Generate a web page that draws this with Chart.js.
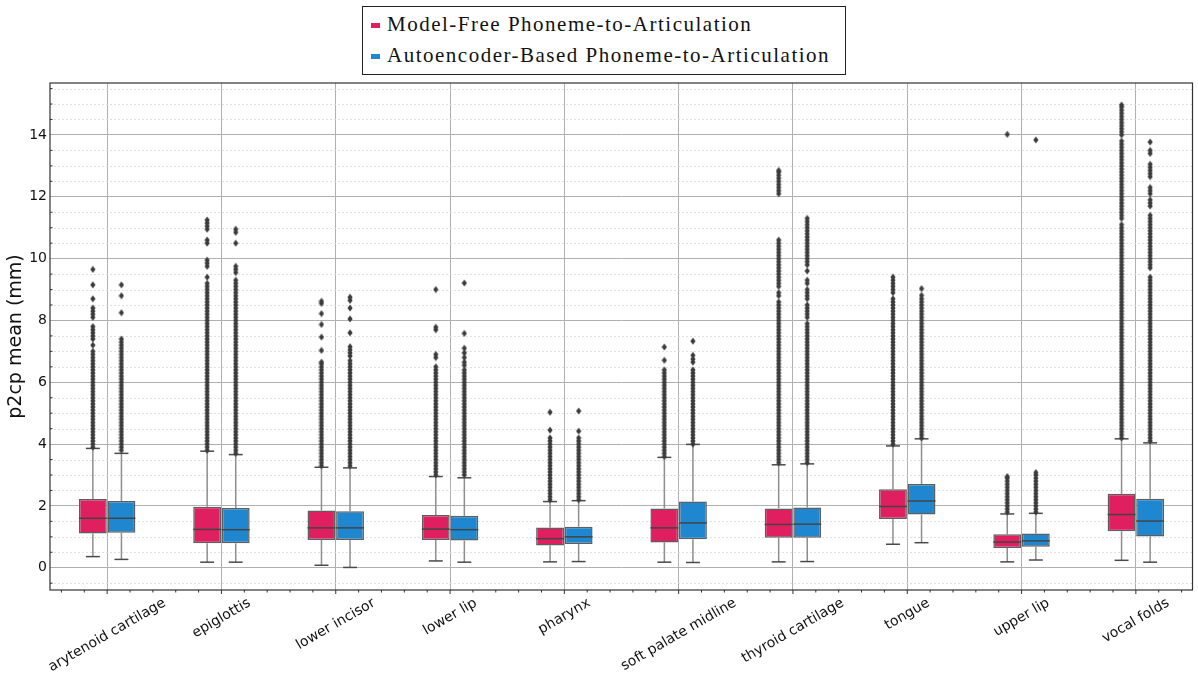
<!DOCTYPE html>
<html>
<head>
<meta charset="utf-8">
<script src="https://cdn.jsdelivr.net/npm/chart.js@4.4.0/dist/chart.umd.min.js"></script>
<style>
  html, body { margin: 0; padding: 0; background: #fff; }
  #wrap { position: relative; width: 1198px; height: 673px; }
  #legend {
    position: absolute; left: 362px; top: 6px; width: 484px; height: 69px;
    box-sizing: border-box; border: 1px solid #222; background: #fff;
    font-family: "Liberation Serif", serif; font-size: 21px; color: #111;
    letter-spacing: 1.5px; padding: 2px 0 0 8px;
  }
  .row { height: 31px; line-height: 31px; white-space: nowrap; }
  .sw { display: inline-block; width: 9px; height: 5px; margin-right: 7px; vertical-align: middle; position: relative; top: -1px; }
</style>
</head>
<body>
<div id="wrap">
  <canvas id="chart" width="1198" height="673"></canvas>
  <div id="legend"></div>
</div>
<script>
const CATEGORIES = ["arytenoid cartilage", "epiglottis", "lower incisor", "lower lip", "pharynx",
  "soft palate midline", "thyroid cartilage", "tongue", "upper lip", "vocal folds"];
const SERIES = ["Model-Free Phoneme-to-Articulation", "Autoencoder-Based Phoneme-to-Articulation"];
const COLORS = ["#df1f5f", "#1f87cf"];

// box stats, Model-Free
const MF_LOW  = [0.36, 0.18, 0.08, 0.22, 0.19, 0.18, 0.19, 0.76, 0.19, 0.24];
const MF_Q1   = [1.11, 0.79, 0.90, 0.90, 0.72, 0.82, 0.97, 1.58, 0.64, 1.18];
const MF_MED  = [1.60, 1.24, 1.29, 1.25, 0.94, 1.29, 1.40, 1.98, 0.83, 1.72];
const MF_Q3   = [2.22, 1.97, 1.85, 1.71, 1.30, 1.92, 1.92, 2.54, 1.08, 2.39];
const MF_HIGH = [3.86, 3.77, 3.25, 2.95, 2.14, 3.57, 3.33, 3.94, 1.74, 4.17];
// box stats, Autoencoder-Based
const AE_LOW  = [0.27, 0.18, 0.01, 0.18, 0.20, 0.17, 0.20, 0.81, 0.25, 0.18];
const AE_Q1   = [1.13, 0.79, 0.90, 0.88, 0.77, 0.92, 0.97, 1.72, 0.68, 1.01];
const AE_MED  = [1.60, 1.23, 1.29, 1.23, 1.00, 1.45, 1.41, 2.16, 0.87, 1.51];
const AE_Q3   = [2.16, 1.93, 1.83, 1.68, 1.33, 2.14, 1.95, 2.71, 1.11, 2.23];
const AE_HIGH = [3.70, 3.66, 3.23, 2.91, 2.17, 3.99, 3.36, 4.17, 1.76, 4.04];

// fliers, one list per category
const MF_OUTLIERS = [
  [3.9,4,4.1,4.2,4.3,4.4,4.5,4.6,4.7,4.8,4.9,5,5.1,5.2,5.3,5.4,5.5,5.6,5.7,5.8,5.9,6,6.1,6.2,6.3,6.4,6.5,6.6,6.7,6.8,6.9,
   7,7.2,7.4,7.5,7.6,7.7,7.8,8.1,8.2,8.3,8.4,8.7,9.15,9.65],
  [3.8,3.9,4,4.1,4.2,4.3,4.4,4.5,4.6,4.7,4.8,4.9,5,5.1,5.2,5.3,5.4,5.5,5.6,5.7,5.8,5.9,6,6.1,6.2,6.3,6.4,6.5,6.6,6.7,6.8,6.9,
   7,7.1,7.2,7.3,7.4,7.5,7.6,7.7,7.8,7.9,8,8.1,8.2,8.3,8.4,8.5,8.6,8.7,8.8,8.9,9,9.1,9.2,
   9.4,9.75,9.85,9.95,10.5,10.6,10.95,11.05,11.15,11.25],
  [3.3,3.4,3.5,3.6,3.7,3.8,3.9,4,4.1,4.2,4.3,4.4,4.5,4.6,4.7,4.8,4.9,5,5.1,5.2,5.3,5.4,5.5,5.6,5.7,5.8,5.9,6,6.1,6.2,6.3,6.4,6.5,
   6.6,6.65,7.03,7.46,7.87,8.22,8.55,8.62],
  [3,3.1,3.2,3.3,3.4,3.5,3.6,3.7,3.8,3.9,4,4.1,4.2,4.3,4.4,4.5,4.6,4.7,4.8,4.9,5,5.1,5.2,5.3,5.4,5.5,5.6,5.7,5.8,5.9,6,6.1,6.2,6.3,6.4,6.5,
   6.8,6.9,7.7,7.78,9.0],
  [2.2,2.3,2.4,2.5,2.6,2.7,2.8,2.9,3,3.1,3.2,3.3,3.4,3.5,3.6,3.7,3.8,3.9,4,4.1,4.2,4.45,5.03],
  [3.6,3.7,3.8,3.9,4,4.1,4.2,4.3,4.4,4.5,4.6,4.7,4.8,4.9,5,5.1,5.2,5.3,5.4,5.5,5.6,5.7,5.8,5.9,6,6.1,6.2,6.3,6.4,6.71,7.14],
  [3.4,3.5,3.6,3.7,3.8,3.9,4,4.1,4.2,4.3,4.4,4.5,4.6,4.7,4.8,4.9,5,5.1,5.2,5.3,5.4,5.5,5.6,5.7,5.8,5.9,6,6.1,6.2,6.3,6.4,6.5,6.6,6.7,6.8,6.9,
   7,7.1,7.2,7.3,7.4,7.5,7.6,7.7,7.8,7.9,8,8.1,8.2,8.3,8.4,8.5,8.6,8.8,8.9,
   9.1,9.2,9.3,9.4,9.5,9.6,9.7,9.8,9.9,10,10.1,10.2,10.3,10.4,10.5,10.6,
   12.1,12.2,12.3,12.4,12.5,12.6,12.7,12.8,12.85],
  [4,4.1,4.2,4.3,4.4,4.5,4.6,4.7,4.8,4.9,5,5.1,5.2,5.3,5.4,5.5,5.6,5.7,5.8,5.9,6,6.1,6.2,6.3,6.4,6.5,6.6,6.7,6.8,6.9,
   7,7.1,7.2,7.3,7.4,7.5,7.6,7.7,7.8,7.9,8,8.1,8.2,8.3,8.4,8.5,8.6,8.7,8.9,9,9.1,9.2,9.3,9.4],
  [1.8,1.9,2,2.1,2.2,2.3,2.4,2.5,2.6,2.7,2.8,2.9,2.95,14.02],
  [4.2,4.3,4.4,4.5,4.6,4.7,4.8,4.9,5,5.1,5.2,5.3,5.4,5.5,5.6,5.7,5.8,5.9,6,6.1,6.2,6.3,6.4,6.5,6.6,6.7,6.8,6.9,
   7,7.1,7.2,7.3,7.4,7.5,7.6,7.7,7.8,7.9,8,8.1,8.2,8.3,8.4,8.5,8.6,8.7,8.8,8.9,9,9.1,9.2,9.3,9.4,9.5,9.6,9.7,9.8,9.9,
   10,10.1,10.2,10.3,10.4,10.5,10.6,10.7,10.8,10.9,11,11.1,11.3,11.4,11.5,11.6,11.7,11.8,11.9,
   12,12.1,12.2,12.3,12.4,12.5,12.6,12.7,12.8,12.9,13,13.1,13.2,13.3,13.4,13.5,13.6,13.7,13.8,
   14,14.1,14.2,14.3,14.4,14.5,14.6,14.7,14.8,14.9,14.97]
];
const AE_OUTLIERS = [
  [3.8,3.9,4,4.1,4.2,4.3,4.4,4.5,4.6,4.7,4.8,4.9,5,5.1,5.2,5.3,5.4,5.5,5.6,5.7,5.8,5.9,6,6.1,6.2,6.3,6.4,6.5,6.6,6.7,6.8,6.9,
   7,7.1,7.2,7.3,7.4,8.25,8.8,9.15],
  [3.7,3.8,3.9,4,4.1,4.2,4.3,4.4,4.5,4.6,4.7,4.8,4.9,5,5.1,5.2,5.3,5.4,5.5,5.6,5.7,5.8,5.9,6,6.1,6.2,6.3,6.4,6.5,6.6,6.7,6.8,6.9,
   7,7.1,7.2,7.3,7.4,7.5,7.6,7.7,7.8,7.9,8,8.1,8.2,8.3,8.4,8.5,8.6,8.7,8.8,8.9,9,9.1,9.2,9.3,
   9.55,9.65,9.75,10.5,10.85,10.95],
  [3.3,3.4,3.5,3.6,3.7,3.8,3.9,4,4.1,4.2,4.3,4.4,4.5,4.6,4.7,4.8,4.9,5,5.1,5.2,5.3,5.4,5.5,5.6,5.7,5.8,5.9,6,6.1,6.2,6.3,6.4,6.5,6.6,6.7,
   6.85,6.95,7.05,7.15,7.6,8.05,8.4,8.65,8.75],
  [3,3.1,3.2,3.3,3.4,3.5,3.6,3.7,3.8,3.9,4,4.1,4.2,4.3,4.4,4.5,4.6,4.7,4.8,4.9,5,5.1,5.2,5.3,5.4,5.5,5.6,5.7,5.8,5.9,6,6.1,6.2,6.3,6.4,
   6.55,6.65,6.8,6.95,7.1,7.58,9.21],
  [2.2,2.3,2.4,2.5,2.6,2.7,2.8,2.9,3,3.1,3.2,3.3,3.4,3.5,3.6,3.7,3.8,3.9,4,4.1,4.2,4.42,5.07],
  [4,4.1,4.2,4.3,4.4,4.5,4.6,4.7,4.8,4.9,5,5.1,5.2,5.3,5.4,5.5,5.6,5.7,5.8,5.9,6,6.1,6.2,6.3,6.4,6.65,6.75,6.87,7.33],
  [3.4,3.5,3.6,3.7,3.8,3.9,4,4.1,4.2,4.3,4.4,4.5,4.6,4.7,4.8,4.9,5,5.1,5.2,5.3,5.4,5.5,5.6,5.7,5.8,5.9,6,6.1,6.2,6.3,6.4,6.5,6.6,6.7,6.8,6.9,
   7,7.1,7.2,7.3,7.4,7.5,7.6,7.7,7.8,7.9,8.1,8.2,8.3,8.4,8.5,8.7,8.8,8.9,9,9.2,9.3,9.6,
   9.8,9.9,10,10.1,10.2,10.3,10.4,10.5,10.6,10.7,10.8,10.9,11,11.1,11.2,11.3],
  [4.2,4.3,4.4,4.5,4.6,4.7,4.8,4.9,5,5.1,5.2,5.3,5.4,5.5,5.6,5.7,5.8,5.9,6,6.1,6.2,6.3,6.4,6.5,6.6,6.7,6.8,6.9,
   7,7.1,7.2,7.3,7.4,7.5,7.6,7.7,7.8,7.9,8,8.1,8.2,8.3,8.4,8.5,8.6,8.7,8.81,9.03],
  [1.8,1.9,2,2.1,2.2,2.3,2.4,2.5,2.6,2.7,2.8,2.9,3,3.08,13.84],
  [4.1,4.2,4.3,4.4,4.5,4.6,4.7,4.8,4.9,5,5.1,5.2,5.3,5.4,5.5,5.6,5.7,5.8,5.9,6,6.1,6.2,6.3,6.4,6.5,6.6,6.7,6.8,6.9,
   7,7.1,7.2,7.3,7.4,7.5,7.6,7.7,7.8,7.9,8,8.1,8.2,8.3,8.4,8.5,8.6,8.7,8.8,8.9,9,9.1,9.2,9.3,9.4,
   9.7,9.8,9.9,10,10.1,10.2,10.3,10.4,10.5,10.6,10.7,10.8,10.9,11,11.1,11.2,11.3,11.4,
   11.7,11.8,11.9,12.1,12.2,12.3,12.65,12.75,12.85,12.95,13.05,13.4,13.5,13.77]
];

const Y_TICKS = [0, 2, 4, 6, 8, 10, 12, 14];
const Y_MINOR = [-0.5, 0.5, 1, 1.5, 2.5, 3, 3.5, 4.5, 5, 5.5, 6.5, 7, 7.5, 8.5, 9, 9.5,
  10.5, 11, 11.5, 12.5, 13, 13.5, 14.5, 15, 15.5];

// four sub-slots per category: the two boxes sit in the middle ones
const SLOTS = CATEGORIES.flatMap((c) => [c + "|a", c + "|mf", c + "|ae", c + "|b"]);

// legend
const legendEl = document.getElementById("legend");
SERIES.forEach((name, i) => {
  const row = document.createElement("div");
  row.className = "row";
  row.innerHTML = `<span class="sw" style="background:${COLORS[i]}"></span>${name}`;
  legendEl.appendChild(row);
});

// thin diamond marker, like matplotlib's "d"
const diamond = document.createElement("canvas");
diamond.width = 6;
diamond.height = 8;
{
  const c = diamond.getContext("2d");
  c.fillStyle = "#3c3c3c";
  c.beginPath();
  c.moveTo(3, 0.5);
  c.lineTo(5.6, 4);
  c.lineTo(3, 7.5);
  c.lineTo(0.4, 4);
  c.closePath();
  c.fill();
}

function boxDataset(label, key, q1, q3, color) {
  return {
    type: "bar",
    label,
    xAxisID: "xs",
    data: CATEGORIES.map((c, i) => ({ x: c + key, y: [q1[i], q3[i]] })),
    backgroundColor: color,
    borderColor: "#5e5e5e",
    borderWidth: 1.5,
    borderSkipped: false,
    grouped: false,
    categoryPercentage: 1,
    barPercentage: 0.975,
    order: 1,
  };
}

function flierDataset(label, key, fliers) {
  return {
    type: "line",
    label,
    xAxisID: "xs",
    showLine: false,
    data: fliers.flatMap((vals, i) => vals.map((v) => ({ x: CATEGORIES[i] + key, y: v }))),
    pointStyle: diamond,
    pointRadius: 3,
    order: 0,
  };
}

const STATS = [
  { low: MF_LOW, med: MF_MED, q1: MF_Q1, q3: MF_Q3, high: MF_HIGH },
  { low: AE_LOW, med: AE_MED, q1: AE_Q1, q3: AE_Q3, high: AE_HIGH },
];

function line(ctx, x1, y1, x2, y2) {
  ctx.beginPath();
  ctx.moveTo(x1, y1);
  ctx.lineTo(x2, y2);
  ctx.stroke();
}

const boxExtras = {
  id: "boxExtras",
  beforeDatasetsDraw(chart) {
    const { ctx, chartArea: a, scales: { y } } = chart;
    ctx.save();
    // minor grid
    ctx.strokeStyle = "#d9d9d9";
    ctx.lineWidth = 0.8;
    ctx.setLineDash([2, 2]);
    Y_MINOR.forEach((v) => {
      const py = Math.round(y.getPixelForValue(v)) + 0.5;
      line(ctx, a.left, py, a.right, py);
    });
    ctx.setLineDash([]);
    // whiskers + caps
    STATS.forEach((s, d) => {
      chart.getDatasetMeta(d).data.forEach((bar, i) => {
        const cx = bar.x, w = bar.width;
        const yl = y.getPixelForValue(s.low[i]), yh = y.getPixelForValue(s.high[i]);
        ctx.strokeStyle = "#8e8e8e";
        ctx.lineWidth = 1.5;
        line(ctx, cx, y.getPixelForValue(s.q1[i]), cx, yl);
        line(ctx, cx, y.getPixelForValue(s.q3[i]), cx, yh);
        ctx.strokeStyle = "#4a4a4a";
        line(ctx, cx - w / 4, yl, cx + w / 4, yl);
        line(ctx, cx - w / 4, yh, cx + w / 4, yh);
      });
    });
    ctx.restore();
  },
  afterDatasetsDraw(chart) {
    const { ctx, scales: { y } } = chart;
    ctx.save();
    ctx.strokeStyle = "#444";
    ctx.lineWidth = 1.5;
    STATS.forEach((s, d) => {
      chart.getDatasetMeta(d).data.forEach((bar, i) => {
        const py = y.getPixelForValue(s.med[i]);
        line(ctx, bar.x - bar.width / 2, py, bar.x + bar.width / 2, py);
      });
    });
    ctx.restore();
  },
  afterDraw(chart) {
    const { ctx, chartArea: a, scales: { x, y } } = chart;
    ctx.save();
    // frame
    ctx.strokeStyle = "#333";
    ctx.lineWidth = 1.2;
    ctx.strokeRect(a.left, a.top, a.right - a.left - 0.5, a.bottom - a.top);
    // x ticks, major + minor
    const p0 = x.getPixelForValue(0);
    const step = x.getPixelForValue(1) - p0;
    ctx.lineWidth = 1;
    for (let m = -3; m <= 50; m++) {
      const px = p0 + (m * step) / 5;
      if (px < a.left || px > a.right) continue;
      line(ctx, px, a.bottom, px, a.bottom + (m % 5 === 0 ? 4 : 2.5));
    }
    // y minor ticks
    Y_MINOR.forEach((v) => {
      const py = y.getPixelForValue(v);
      line(ctx, a.left, py, a.left + 2.5, py);
    });
    // rotated category labels, centred on the tick like matplotlib
    ctx.font = "14px 'DejaVu Sans'";
    ctx.fillStyle = "#111";
    ctx.textAlign = "center";
    ctx.textBaseline = "middle";
    const ang = Math.PI / 6;
    CATEGORIES.forEach((c, i) => {
      const L = ctx.measureText(c).width;
      const H = L * Math.sin(ang) + 14 * Math.cos(ang);
      ctx.save();
      ctx.translate(x.getPixelForValue(i), a.bottom + 6 + H / 2);
      ctx.rotate(-ang);
      ctx.fillText(c, 0, 0);
      ctx.restore();
    });
    ctx.restore();
  },
};

new Chart(document.getElementById("chart").getContext("2d"), {
  type: "bar",
  data: {
    datasets: [
      boxDataset(SERIES[0], "|mf", MF_Q1, MF_Q3, COLORS[0]),
      boxDataset(SERIES[1], "|ae", AE_Q1, AE_Q3, COLORS[1]),
      flierDataset(SERIES[0] + " fliers", "|mf", MF_OUTLIERS),
      flierDataset(SERIES[1] + " fliers", "|ae", AE_OUTLIERS),
    ],
  },
  options: {
    responsive: false,
    animation: false,
    events: [],
    layout: { padding: { top: 83, right: 0, left: 0, bottom: 0 } },
    scales: {
      x: {
        type: "category",
        labels: CATEGORIES,
        offset: true,
        grid: { offset: false, color: "#b0b0b0", lineWidth: 1, drawTicks: false },
        border: { display: false },
        ticks: { display: false },
        afterFit: (s) => { s.height = 83; },
      },
      xs: {
        type: "category",
        labels: SLOTS,
        offset: true,
        display: false,
      },
      y: {
        min: -0.72,
        max: 15.68,
        afterBuildTicks: (s) => { s.ticks = Y_TICKS.map((v) => ({ value: v })); },
        ticks: { font: { family: "DejaVu Sans", size: 14 }, color: "#111", padding: 3 },
        grid: { color: "#b0b0b0", lineWidth: 1, drawTicks: false },
        border: { display: false },
        title: {
          display: true,
          text: "p2cp mean (mm)",
          font: { family: "DejaVu Sans", size: 19 },
          color: "#111",
          padding: { top: 5, bottom: 0 },
        },
        afterFit: (s) => { s.width = 50; },
      },
    },
    plugins: {
      legend: { display: false },
      tooltip: { enabled: false },
    },
  },
  plugins: [boxExtras],
});
</script>
</body>
</html>
